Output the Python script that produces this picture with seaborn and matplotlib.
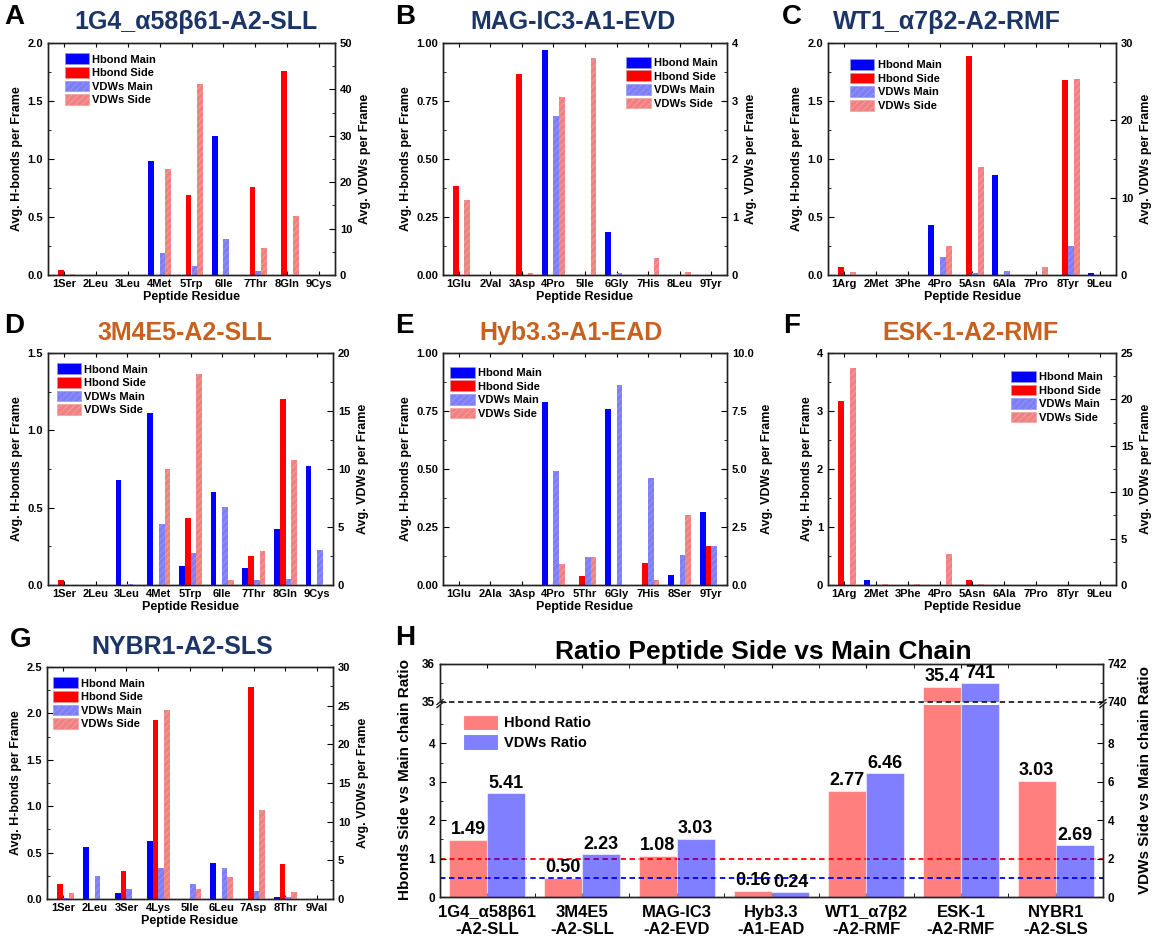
import numpy as np
import pandas as pd
import matplotlib
matplotlib.use("Agg")
import matplotlib.pyplot as plt
from matplotlib.patches import Patch
from matplotlib.ticker import MultipleLocator, FormatStrFormatter, FixedLocator
import seaborn as sns

plt.rcParams["font.family"] = ["Liberation Sans", "DejaVu Sans"]
plt.rcParams["font.weight"] = "bold"
plt.rcParams["axes.labelweight"] = "bold"
plt.rcParams["hatch.linewidth"] = 0.6

W, H = 1156, 949
NAVY = "#1C3567"
ORANGE = "#C8611E"

SERIES = ["Hbond Main", "Hbond Side", "VDWs Main", "VDWs Side"]
PALETTE = {"Hbond Main": "#0000FF", "Hbond Side": "#FF0000",
           "VDWs Main": "#7E7EF6", "VDWs Side": "#EF8181"}
HATCH_COLORS = {"VDWs Main": "#9898FA", "VDWs Side": "#F5A2A2"}

# ---- A: 1G4_a58b61-A2-SLL ----
a_res = ["1Ser", "2Leu", "3Leu", "4Met", "5Trp", "6Ile", "7Thr", "8Gln", "9Cys"]
a_hb_main = [0, 0, 0, 0.98, 0, 1.20, 0, 0, 0]
a_hb_side = [0.04, 0, 0, 0, 0.69, 0, 0.76, 1.76, 0]
a_vdw_main = [0, 0, 0, 4.7, 2.0, 7.8, 0.9, 0, 0]
a_vdw_side = [0.2, 0, 0, 22.8, 41.2, 0, 5.9, 12.8, 0]

# ---- B: MAG-IC3-A1-EVD ----
b_res = ["1Glu", "2Val", "3Asp", "4Pro", "5Ile", "6Gly", "7His", "8Leu", "9Tyr"]
b_hb_main = [0, 0, 0, 0.97, 0, 0.185, 0, 0, 0]
b_hb_side = [0.385, 0, 0.865, 0, 0, 0, 0, 0, 0]
b_vdw_main = [0, 0, 0, 2.75, 0, 0.04, 0, 0, 0]
b_vdw_side = [1.29, 0, 0.03, 3.07, 3.74, 0, 0.29, 0.06, 0]

# ---- C: WT1_a7b2-A2-RMF ----
c_res = ["1Arg", "2Met", "3Phe", "4Pro", "5Asn", "6Ala", "7Pro", "8Tyr", "9Leu"]
c_hb_main = [0, 0, 0, 0.43, 0, 0.86, 0, 0, 0.02]
c_hb_side = [0.065, 0, 0, 0, 1.89, 0, 0, 1.68, 0]
c_vdw_main = [0, 0, 0, 2.35, 0.2, 0.56, 0, 3.7, 0]
c_vdw_side = [0.45, 0, 0, 3.75, 14.0, 0, 1.05, 25.3, 0]

# ---- D: 3M4E5-A2-SLL ----
d_res = ["1Ser", "2Leu", "3Leu", "4Met", "5Trp", "6Ile", "7Thr", "8Gln", "9Cys"]
d_hb_main = [0, 0, 0.68, 1.11, 0.12, 0.60, 0.11, 0.36, 0.77]
d_hb_side = [0.035, 0, 0, 0, 0.43, 0, 0.19, 1.20, 0]
d_vdw_main = [0, 0, 0.12, 5.3, 2.8, 6.7, 0.45, 0.5, 3.0]
d_vdw_side = [0, 0, 0, 10.0, 18.2, 0.4, 2.9, 10.8, 0]

# ---- E: Hyb3.3-A1-EAD ----
e_res = ["1Glu", "2Ala", "3Asp", "4Pro", "5Thr", "6Gly", "7His", "8Ser", "9Tyr"]
e_hb_main = [0, 0, 0, 0.79, 0, 0.76, 0, 0.045, 0.315]
e_hb_side = [0, 0, 0, 0, 0.04, 0, 0.095, 0, 0.17]
e_vdw_main = [0, 0, 0, 4.9, 1.2, 8.6, 4.6, 1.3, 1.7]
e_vdw_side = [0, 0, 0, 0.9, 1.2, 0, 0.2, 3.0, 0]

# ---- F: ESK-1-A2-RMF ----
f_res = ["1Arg", "2Met", "3Phe", "4Pro", "5Asn", "6Ala", "7Pro", "8Tyr", "9Leu"]
f_hb_main = [0, 0.09, 0, 0, 0, 0, 0, 0, 0]
f_hb_side = [3.18, 0, 0, 0, 0.085, 0, 0, 0, 0]
f_vdw_main = [0, 0, 0, 0, 0, 0, 0, 0, 0]
f_vdw_side = [23.4, 0.1, 0.15, 3.35, 0.1, 0, 0, 0, 0]

# ---- G: NYBR1-A2-SLS ----
g_res = ["1Ser", "2Leu", "3Ser", "4Lys", "5Ile", "6Leu", "7Asp", "8Thr", "9Val"]
g_hb_main = [0, 0.56, 0.065, 0.63, 0, 0.39, 0, 0.02, 0]
g_hb_side = [0.16, 0, 0.30, 1.93, 0, 0, 2.28, 0.38, 0]
g_vdw_main = [0.1, 2.95, 1.3, 3.95, 1.9, 3.95, 1.05, 0.25, 0]
g_vdw_side = [0.8, 0, 0, 24.5, 1.25, 2.9, 11.5, 0.85, 0]

# ---- H: side/main chain ratios ----
ratio_groups = ["1G4_α58β61\n-A2-SLL", "3M4E5\n-A2-SLL", "MAG-IC3\n-A2-EVD",
                "Hyb3.3\n-A1-EAD", "WT1_α7β2\n-A2-RMF", "ESK-1\n-A2-RMF",
                "NYBR1\n-A2-SLS"]
hbond_ratio = [1.49, 0.50, 1.08, 0.16, 2.77, 35.4, 3.03]
vdw_ratio = [5.41, 2.23, 3.03, 0.24, 6.46, 741, 2.69]
RATIO_KINDS = ["Hbond Ratio", "VDWs Ratio"]

# broken y ranges of panel H
HB_LOW = (0, 5.0)
HB_HIGH = (35, 36)
VDW_LOW = (0, 10.0)
VDW_HIGH = (740, 742)

fig = plt.figure(figsize=(W / 100, H / 100), dpi=100)


def box(x0, x1, y0, y1):
    return [x0 / W, 1 - y1 / H, (x1 - x0) / W, (y1 - y0) / H]


def ftext(x, y, s, **kw):
    fig.text(x / W, 1 - y / H, s, **kw)


def style_spines(ax):
    for sp in ax.spines.values():
        sp.set_linewidth(1.0)
        sp.set_color("#222222")


def hide_empty(ax):
    for cont in ax.containers:
        for p in cont:
            if p.get_height() == 0:
                p.set_visible(False)


def residue_panel(rect, residues, hm, hs, vm, vs, hb_lim, hb_step, hb_fmt,
                  vdw_lim, vdw_step, vdw_fmt, leg_loc, leg_anchor):
    ax = fig.add_axes(rect)
    n = len(residues)
    zeros = [0.0] * n

    def long(cols):
        return pd.DataFrame({"residue": residues * 4,
                             "series": np.repeat(SERIES, n),
                             "value": np.concatenate([np.asarray(c, float) for c in cols])})

    kw = dict(x="residue", y="value", hue="series", order=residues,
              hue_order=SERIES, palette=PALETTE, width=0.72, saturation=1,
              errorbar=None, legend=False, linewidth=0)
    sns.barplot(data=long([hm, hs, zeros, zeros]), ax=ax, **kw)
    ax2 = ax.twinx()
    sns.barplot(data=long([zeros, zeros, vm, vs]), ax=ax2, **kw)
    for name, cont in zip(SERIES[2:], ax2.containers[2:]):
        for p in cont:
            p.set_hatch("/////")
            p.set_edgecolor(HATCH_COLORS[name])
            p.set_linewidth(0)
    hide_empty(ax)
    hide_empty(ax2)

    ax.set_xlim(-0.5, n - 0.5)
    ax.set_ylim(*hb_lim)
    ax2.set_ylim(*vdw_lim)
    ax.yaxis.set_major_locator(MultipleLocator(hb_step))
    ax.yaxis.set_minor_locator(MultipleLocator(hb_step / 2))
    ax.yaxis.set_major_formatter(FormatStrFormatter(hb_fmt))
    ax2.yaxis.set_major_locator(MultipleLocator(vdw_step))
    ax2.yaxis.set_minor_locator(MultipleLocator(vdw_step / 2))
    ax2.yaxis.set_major_formatter(FormatStrFormatter(vdw_fmt))

    ax.set_xticks(range(n))
    ax.set_xticklabels(residues, fontsize=8, fontweight="bold")
    ax.tick_params(axis="x", which="both", direction="in", top=True,
                   bottom=True, length=3, pad=3)
    ax.tick_params(axis="y", which="both", direction="in", left=True,
                   right=False, labelsize=8)
    ax.tick_params(axis="y", which="major", length=4)
    ax.tick_params(axis="y", which="minor", length=2.5)
    ax2.tick_params(axis="y", which="both", direction="in", right=True,
                    left=False, labelsize=8)
    ax2.tick_params(axis="y", which="major", length=4)
    ax2.tick_params(axis="y", which="minor", length=2.5)
    for lab in ax.get_yticklabels() + ax2.get_yticklabels():
        lab.set_fontweight("bold")

    ax.set_xlabel("Peptide Residue", fontsize=9, fontweight="bold", labelpad=1)
    ax.set_ylabel("Avg. H-bonds per Frame", fontsize=9, fontweight="bold", labelpad=3)
    ax2.set_ylabel("Avg. VDWs per Frame", fontsize=9, fontweight="bold", labelpad=5)
    style_spines(ax)
    style_spines(ax2)

    handles = [Patch(facecolor=PALETTE[s], edgecolor="#9A9AC8" if "Main" in s else "#D09A9A",
                     linewidth=0.5) for s in SERIES]
    for h, s in zip(handles[2:], SERIES[2:]):
        h.set_hatch("/////")
        h.set_edgecolor(HATCH_COLORS[s])
    ax2.legend(handles, SERIES, loc=leg_loc, bbox_to_anchor=leg_anchor,
               frameon=False, fontsize=8, handlelength=2.2, handleheight=1.1,
               labelspacing=0.22, handletextpad=0.3, borderpad=0, borderaxespad=0)
    return ax, ax2


residue_panel(box(48, 335, 43, 275), a_res, a_hb_main, a_hb_side, a_vdw_main, a_vdw_side,
              (0, 2.0), 0.5, "%.1f", (0, 50), 10, "%d", "upper left", (0.058, 0.955))
residue_panel(box(443, 727, 43, 275), b_res, b_hb_main, b_hb_side, b_vdw_main, b_vdw_side,
              (0, 1.0), 0.25, "%.2f", (0, 4), 1, "%d", "upper right", (0.968, 0.94))
residue_panel(box(828, 1116, 43, 275), c_res, c_hb_main, c_hb_side, c_vdw_main, c_vdw_side,
              (0, 2.0), 0.5, "%.1f", (0, 30), 10, "%d", "upper left", (0.076, 0.93))
residue_panel(box(48, 333, 353, 585), d_res, d_hb_main, d_hb_side, d_vdw_main, d_vdw_side,
              (0, 1.5), 0.5, "%.1f", (0, 20), 5, "%d", "upper left", (0.03, 0.955))
residue_panel(box(443, 727, 353, 585), e_res, e_hb_main, e_hb_side, e_vdw_main, e_vdw_side,
              (0, 1.0), 0.25, "%.2f", (0, 10.0), 2.5, "%.1f", "upper left", (0.025, 0.94))
residue_panel(box(828, 1116, 353, 585), f_res, f_hb_main, f_hb_side, f_vdw_main, f_vdw_side,
              (0, 4), 1, "%d", (0, 25), 5, "%d", "upper right", (0.955, 0.922))
residue_panel(box(47, 333, 667, 899), g_res, g_hb_main, g_hb_side, g_vdw_main, g_vdw_side,
              (0, 2.5), 0.5, "%.1f", (0, 30), 5, "%d", "upper left", (0.022, 0.955))

# ---- panel H: broken-axis ratio chart ----
hl = fig.add_axes(box(440, 1103, 705, 897))
hu = fig.add_axes(box(440, 1103, 664, 702), sharex=hl)
n_groups = len(ratio_groups)
zeros7 = [0.0] * n_groups


def ratio_df(hb, vdw):
    return pd.DataFrame({"complex": ratio_groups * 2,
                         "kind": np.repeat(RATIO_KINDS, n_groups),
                         "ratio": np.concatenate([np.asarray(hb, float), np.asarray(vdw, float)])})


rkw = dict(x="complex", y="ratio", hue="kind", order=ratio_groups,
           hue_order=RATIO_KINDS, palette={"Hbond Ratio": "#FF0000", "VDWs Ratio": "#0000FF"},
           width=0.8, saturation=1, errorbar=None, legend=False, alpha=0.5,
           edgecolor="#FFFFFF", linewidth=0.8)

hl2 = hl.twinx()
hu2 = hu.twinx()
sns.barplot(data=ratio_df(hbond_ratio, zeros7), ax=hl, **rkw)
sns.barplot(data=ratio_df(hbond_ratio, zeros7), ax=hu, **rkw)
sns.barplot(data=ratio_df(zeros7, vdw_ratio), ax=hl2, **rkw)
sns.barplot(data=ratio_df(zeros7, vdw_ratio), ax=hu2, **rkw)
for a in (hl, hu, hl2, hu2):
    hide_empty(a)

hl.set_ylim(*HB_LOW)
hu.set_ylim(*HB_HIGH)
hl2.set_ylim(*VDW_LOW)
hu2.set_ylim(*VDW_HIGH)
hl.set_xlim(-0.5, n_groups - 0.5)

# reference lines: ratio of 1 for each measure, and the axis break
hl.axhline(1.0, color="#FF0000", ls=(0, (3, 2)), lw=1.3, zorder=0.5)
hl2.axhline(1.0, color="#0000FF", ls=(0, (3, 2)), lw=1.3, zorder=0.5)
hu.axhline(HB_HIGH[0], color="#222222", ls=(0, (3, 2)), lw=1.3, clip_on=False, zorder=5)


def fmt_ratio(v):
    return f"{v:.2f}" if v < 10 else f"{v:.3g}"


lab_kw = dict(fontsize=13, fontweight="bold", padding=1)
hl.bar_label(hl.containers[0], labels=[fmt_ratio(v) if v < HB_LOW[1] else "" for v in hbond_ratio], **lab_kw)
hu.bar_label(hu.containers[0], labels=[fmt_ratio(v) if v >= HB_HIGH[0] else "" for v in hbond_ratio], **lab_kw)
hl2.bar_label(hl2.containers[1], labels=[fmt_ratio(v) if v < VDW_LOW[1] else "" for v in vdw_ratio], **lab_kw)
hu2.bar_label(hu2.containers[1], labels=[fmt_ratio(v) if v >= VDW_HIGH[0] else "" for v in vdw_ratio], **lab_kw)

for a in (hl, hl2):
    a.spines["top"].set_visible(False)
for a in (hu, hu2):
    a.spines["bottom"].set_visible(False)
for a in (hl, hu, hl2, hu2):
    style_spines(a)
    a.set_xlabel("")
    a.set_ylabel("")

hl.yaxis.set_major_locator(FixedLocator([0, 1, 2, 3, 4]))
hl.yaxis.set_minor_locator(FixedLocator([0.5, 1.5, 2.5, 3.5, 4.5]))
hu.yaxis.set_major_locator(MultipleLocator(1))
hu.yaxis.set_minor_locator(MultipleLocator(0.5))
hl2.yaxis.set_major_locator(FixedLocator([0, 2, 4, 6, 8]))
hl2.yaxis.set_minor_locator(FixedLocator([1, 3, 5, 7, 9]))
hu2.yaxis.set_major_locator(MultipleLocator(2))
hu2.yaxis.set_minor_locator(MultipleLocator(1))

hl.set_xticks(range(n_groups))
hl.set_xticklabels(ratio_groups, fontsize=12, fontweight="bold", linespacing=1.15)
hl.xaxis.set_minor_locator(FixedLocator(np.arange(n_groups + 1) - 0.5))
hl.tick_params(axis="x", which="both", direction="in", bottom=True, top=False, length=3, pad=6)
hu.tick_params(axis="x", which="both", direction="in", top=True, bottom=False,
               labelbottom=False, length=3)
for a in (hl, hu):
    a.tick_params(axis="y", which="both", direction="in", left=True, right=False, labelsize=8.5)
    a.tick_params(axis="y", which="minor", length=2.5)
    a.tick_params(axis="y", which="major", length=4)
for a in (hl2, hu2):
    a.tick_params(axis="y", which="both", direction="in", right=True, left=False, labelsize=8.5)
    a.tick_params(axis="y", which="minor", length=2.5)
    a.tick_params(axis="y", which="major", length=4)
for a in (hl, hu, hl2, hu2):
    for lab in a.get_yticklabels():
        lab.set_fontweight("bold")

# break marks on both vertical spines
dx, dy = 6 / 663, 5 / 38
for xs in (0, 1):
    for off in (0, -3 / 38):
        hu.plot([xs - dx / 2, xs + dx / 2], [off - dy / 2, off + dy / 2],
                transform=hu.transAxes, color="#222222", lw=1.0, clip_on=False, zorder=6)

ratio_handles = [Patch(facecolor=(1, 0, 0, 0.5), edgecolor="#FFFFFF", linewidth=0.8),
                 Patch(facecolor=(0, 0, 1, 0.5), edgecolor="#FFFFFF", linewidth=0.8)]
hl2.legend(ratio_handles, RATIO_KINDS, loc="upper left", bbox_to_anchor=(0.035, 0.95),
           frameon=False, fontsize=10.5, handlelength=2.4, handleheight=1.3,
           labelspacing=0.25, handletextpad=0.4, borderpad=0, borderaxespad=0)

ftext(405, 780, "Hbonds Side vs Main chain Ratio", rotation=90, ha="center", va="center",
      fontsize=11, fontweight="bold")
ftext(1145, 780, "VDWs Side vs Main chain Ratio", rotation=90, ha="center", va="center",
      fontsize=11, fontweight="bold")

# ---- titles and panel letters ----
title_kw = dict(ha="center", va="center", fontsize=18, fontweight="bold")
ftext(196, 22, "1G4_α58β61-A2-SLL", color=NAVY, **title_kw)
ftext(573, 22, "MAG-IC3-A1-EVD", color=NAVY, **title_kw)
ftext(947, 22, "WT1_α7β2-A2-RMF", color=NAVY, **title_kw)
ftext(185, 333, "3M4E5-A2-SLL", color=ORANGE, **title_kw)
ftext(571, 333, "Hyb3.3-A1-EAD", color=ORANGE, **title_kw)
ftext(971, 333, "ESK-1-A2-RMF", color=ORANGE, **title_kw)
ftext(182, 647, "NYBR1-A2-SLS", color=NAVY, **title_kw)
ftext(763, 652, "Ratio Peptide Side vs Main Chain", ha="center", va="center",
      fontsize=19, fontweight="bold", color="black")

letter_kw = dict(ha="left", va="center", fontsize=20, fontweight="bold", color="black")
for x, y, s in [(4, 17, "A"), (395, 17, "B"), (782, 17, "C"), (4, 326, "D"),
                (395, 326, "E"), (783, 326, "F"), (10, 640, "G"), (395, 638, "H")]:
    ftext(x, y, s, **letter_kw)

fig.savefig("out.png", dpi=100, facecolor="white")
